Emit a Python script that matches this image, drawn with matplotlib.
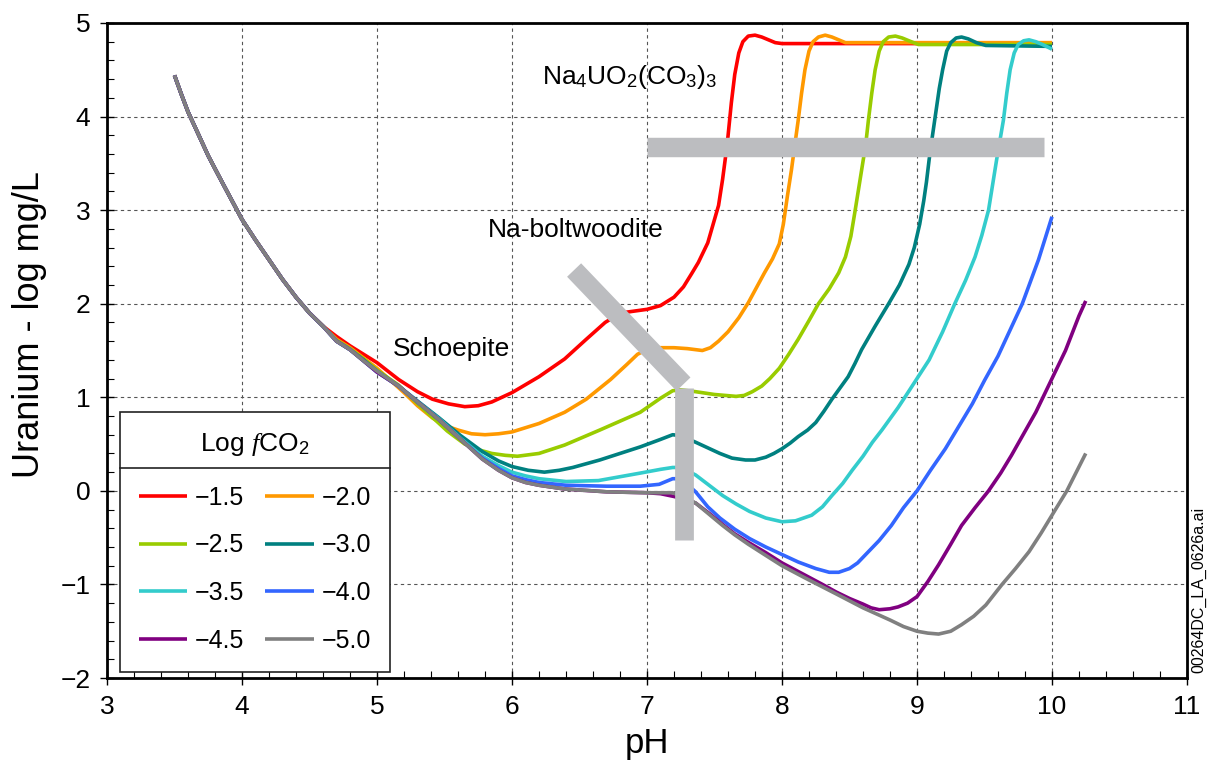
import matplotlib
matplotlib.use("Agg")
import matplotlib.pyplot as plt
from matplotlib.ticker import MultipleLocator
from matplotlib.lines import Line2D

plt.rcParams['font.family'] = ['Liberation Sans', 'DejaVu Sans']
plt.rcParams['mathtext.fontset'] = 'custom'
plt.rcParams['mathtext.rm'] = 'Liberation Sans'
plt.rcParams['mathtext.it'] = 'Liberation Serif:italic'

# shared low-pH branch (schoepite control), identical for every fCO2
shared_ph = [3.5, 3.55, 3.6, 3.68, 3.75, 3.83, 3.9, 4.0, 4.1, 4.2, 4.3, 4.4, 4.5, 4.6]
shared_u = [4.44, 4.24, 4.05, 3.8, 3.58, 3.36, 3.17, 2.9, 2.68, 2.47, 2.26, 2.07, 1.9, 1.76]

labels = ['\u22121.5', '\u22122.0', '\u22122.5', '\u22123.0',
          '\u22123.5', '\u22124.0', '\u22124.5', '\u22125.0']
colors = ['#ff0000', '#ff9900', '#99cc00', '#008080',
          '#33cccc', '#3366ff', '#800080', '#808080']

ph_15 = [4.7, 4.8, 4.9, 5.0, 5.16, 5.3, 5.41, 5.53, 5.65, 5.75, 5.85, 6.0, 6.2, 6.39, 6.55, 6.69,
         6.78, 6.85, 7.0, 7.1, 7.2, 7.27, 7.33, 7.38, 7.45, 7.5, 7.53, 7.56, 7.58, 7.6, 7.625,
         7.65, 7.68, 7.71, 7.75, 7.8, 7.85, 7.9, 7.95, 8.0, 10.0]
u_15 = [1.65, 1.55, 1.46, 1.37, 1.19, 1.06, 0.98, 0.93, 0.9, 0.91, 0.95, 1.05, 1.22, 1.41, 1.62, 1.8,
        1.88, 1.91, 1.94, 1.98, 2.07, 2.18, 2.32, 2.44, 2.65, 2.9, 3.05, 3.33, 3.55, 3.79, 4.15,
        4.45, 4.68, 4.8, 4.86, 4.87, 4.85, 4.82, 4.79, 4.78, 4.78]

ph_20 = [4.7, 4.8, 4.9, 5.0, 5.1, 5.2, 5.3, 5.41, 5.5, 5.6, 5.7, 5.8, 5.9, 6.0, 6.2, 6.39, 6.55,
         6.73, 6.85, 6.93, 7.0, 7.05, 7.2, 7.3, 7.41, 7.47, 7.53, 7.6, 7.68, 7.75, 7.81, 7.87, 7.93,
         7.98, 8.01, 8.04, 8.07, 8.1, 8.12, 8.145, 8.17, 8.2, 8.23, 8.27, 8.32, 8.37, 8.42, 8.47,
         8.52, 10.0]
u_20 = [1.62, 1.53, 1.42, 1.31, 1.18, 1.05, 0.91, 0.78, 0.7, 0.65, 0.61, 0.6, 0.61, 0.63, 0.72, 0.84,
        0.98, 1.19, 1.35, 1.46, 1.51, 1.53, 1.53, 1.52, 1.5, 1.53, 1.6, 1.7, 1.85, 2.01, 2.17, 2.33,
        2.48, 2.64, 2.85, 3.15, 3.43, 3.75, 3.96, 4.25, 4.5, 4.7, 4.8, 4.85, 4.87, 4.85, 4.82, 4.79,
        4.79, 4.79]

ph_25 = [4.7, 4.8, 4.9, 5.0, 5.16, 5.28, 5.4, 5.52, 5.65, 5.75, 5.85, 5.95, 6.04, 6.2, 6.39, 6.65,
         6.95, 7.1, 7.19, 7.25, 7.36, 7.5, 7.66, 7.72, 7.78, 7.85, 7.91, 7.98, 8.05, 8.12, 8.2,
         8.27, 8.35, 8.42, 8.47, 8.51, 8.54, 8.57, 8.59, 8.62, 8.64, 8.665, 8.69, 8.72, 8.75,
         8.79, 8.84, 8.89, 8.94, 9.01, 10.0]
u_25 = [1.61, 1.52, 1.41, 1.29, 1.13, 0.96, 0.8, 0.64, 0.5, 0.44, 0.4, 0.38, 0.37, 0.4, 0.49, 0.65,
        0.84, 0.99, 1.07, 1.08, 1.06, 1.03, 1.01, 1.02, 1.06, 1.12, 1.2, 1.31, 1.46, 1.62, 1.82,
        2.0, 2.16, 2.33, 2.5, 2.72, 2.98, 3.25, 3.43, 3.7, 3.96, 4.25, 4.5, 4.7, 4.8,
        4.85, 4.86, 4.84, 4.81, 4.77, 4.77]

ph_30 = [4.7, 4.8, 4.9, 5.0, 5.16, 5.3, 5.46, 5.62, 5.78, 5.9, 6.0, 6.12, 6.24, 6.35, 6.45, 6.65,
         6.95, 7.1, 7.19, 7.25, 7.36, 7.45, 7.54, 7.63, 7.73, 7.8, 7.88, 7.94, 8.0, 8.06, 8.12,
         8.19, 8.25, 8.31, 8.37, 8.43, 8.49, 8.54, 8.59, 8.69, 8.79, 8.87, 8.94, 8.98, 9.02, 9.05,
         9.07, 9.09, 9.115, 9.14, 9.165, 9.19, 9.22, 9.25, 9.29, 9.33, 9.38, 9.44, 9.51, 10.0]
u_30 = [1.6, 1.51, 1.4, 1.28, 1.12, 0.96, 0.78, 0.59, 0.42, 0.32, 0.26, 0.22, 0.2, 0.22, 0.25, 0.33,
        0.47, 0.55, 0.6, 0.59, 0.52, 0.46, 0.4, 0.35, 0.33, 0.33, 0.36, 0.4, 0.45, 0.51, 0.58,
        0.65, 0.73, 0.85, 0.98, 1.1, 1.22, 1.36, 1.51, 1.76, 2.0, 2.2, 2.42, 2.6, 2.85, 3.1,
        3.3, 3.54, 3.8, 4.05, 4.3, 4.5, 4.7, 4.79, 4.84, 4.85, 4.83, 4.79, 4.76, 4.75]

ph_35 = [4.7, 4.8, 4.9, 5.0, 5.16, 5.3, 5.46, 5.62, 5.78, 5.9, 6.0, 6.1, 6.2, 6.4, 6.64, 6.95, 7.1,
         7.19, 7.25, 7.36, 7.46, 7.56, 7.66, 7.76, 7.88, 8.0, 8.1, 8.22, 8.3, 8.37, 8.45, 8.52,
         8.6, 8.67, 8.74, 8.8, 8.86, 8.91, 9.0, 9.09, 9.19, 9.28, 9.36, 9.43, 9.48, 9.53, 9.56,
         9.59, 9.615, 9.64, 9.665, 9.69, 9.72, 9.75, 9.79, 9.83, 9.88, 9.93, 10.0]
u_35 = [1.6, 1.51, 1.39, 1.27, 1.12, 0.95, 0.77, 0.56, 0.37, 0.27, 0.2, 0.16, 0.13, 0.1, 0.11, 0.19,
        0.23, 0.25, 0.25, 0.17, 0.06, -0.05, -0.14, -0.22, -0.29, -0.33, -0.32, -0.26, -0.17,
        -0.05, 0.08, 0.22, 0.37, 0.52, 0.65, 0.77, 0.89, 1.0, 1.2, 1.4, 1.7, 2.0, 2.25, 2.5, 2.73,
        3.0, 3.27, 3.54, 3.75, 3.96, 4.25, 4.5, 4.68, 4.77, 4.81, 4.82, 4.8, 4.77, 4.72]

ph_40 = [4.7, 4.8, 4.9, 5.0, 5.16, 5.3, 5.46, 5.62, 5.78, 5.9, 6.0, 6.1, 6.2, 6.4, 6.7, 6.95, 7.09,
         7.19, 7.25, 7.36, 7.45, 7.54, 7.65, 7.76, 7.88, 8.0, 8.12, 8.25, 8.35, 8.42, 8.5, 8.56,
         8.62, 8.72, 8.81, 8.9, 9.0, 9.1, 9.21, 9.31, 9.41, 9.5, 9.6, 9.69, 9.78, 9.9, 10.0]
u_40 = [1.6, 1.51, 1.39, 1.27, 1.12, 0.95, 0.76, 0.55, 0.35, 0.24, 0.16, 0.12, 0.09, 0.06, 0.05, 0.05,
        0.07, 0.13, 0.13, -0.01, -0.17, -0.29, -0.41, -0.51, -0.6, -0.68, -0.76, -0.83, -0.87,
        -0.87, -0.83, -0.77, -0.68, -0.53, -0.37, -0.18, 0.0, 0.22, 0.45, 0.69, 0.93, 1.18, 1.44,
        1.72, 2.0, 2.47, 2.93]

ph_45 = [4.7, 4.8, 4.9, 5.0, 5.16, 5.3, 5.46, 5.62, 5.78, 5.9, 6.0, 6.1, 6.2, 6.39, 6.7, 7.0, 7.1,
         7.2, 7.28, 7.36, 7.46, 7.56, 7.65, 7.75, 7.88, 8.0, 8.17, 8.3, 8.4, 8.5, 8.6, 8.66, 8.72,
         8.8, 8.86, 8.93, 9.0, 9.08, 9.16, 9.25, 9.33, 9.43, 9.53, 9.62, 9.7, 9.79, 9.88, 10.0,
         10.1, 10.2, 10.25]
u_45 = [1.6, 1.51, 1.39, 1.27, 1.12, 0.95, 0.76, 0.55, 0.34, 0.22, 0.14, 0.09, 0.06, 0.02, -0.01,
        -0.02, -0.03, -0.06, -0.09, -0.13, -0.24, -0.36, -0.46, -0.55, -0.66, -0.77, -0.9, -1.0,
        -1.08, -1.15, -1.21, -1.25, -1.27, -1.26, -1.24, -1.2, -1.13, -0.97, -0.79, -0.57, -0.37,
        -0.18, 0.0, 0.19, 0.38, 0.61, 0.84, 1.2, 1.5, 1.87, 2.03]

ph_50 = [4.7, 4.8, 4.9, 5.0, 5.16, 5.3, 5.46, 5.62, 5.78, 5.9, 6.0, 6.1, 6.2, 6.39, 6.7, 7.0, 7.19,
         7.28, 7.36, 7.46, 7.56, 7.65, 7.75, 7.88, 8.0, 8.17, 8.4, 8.6, 8.8, 8.9, 9.0, 9.08, 9.16,
         9.25, 9.33, 9.42, 9.51, 9.57, 9.63, 9.73, 9.83, 9.92, 10.0, 10.11, 10.25]
u_50 = [1.6, 1.51, 1.39, 1.28, 1.12, 0.95, 0.76, 0.55, 0.34, 0.22, 0.14, 0.09, 0.06, 0.02, -0.01,
        -0.02, -0.02, -0.07, -0.13, -0.25, -0.37, -0.47, -0.57, -0.69, -0.8, -0.93, -1.1, -1.25,
        -1.38, -1.45, -1.5, -1.52, -1.53, -1.5, -1.43, -1.34, -1.22, -1.11, -1.0, -0.83, -0.65,
        -0.45, -0.26, 0.0, 0.40]

series = [(ph_15, u_15), (ph_20, u_20), (ph_25, u_25), (ph_30, u_30),
          (ph_35, u_35), (ph_40, u_40), (ph_45, u_45), (ph_50, u_50)]

# phase-boundary bands (grey bars)
na4_bar = ([7.0, 9.94], [3.67, 3.67])
boltwood_bar = ([6.46, 7.27], [2.36, 1.14])
schoep_bar = ([7.275, 7.275], [1.1, -0.52])

fig = plt.figure(figsize=(12.08, 7.69), dpi=100)
ax = fig.add_axes([0.0886, 0.1183, 0.8940, 0.8518])

handles = []
for (ph, u), c, lab in zip(series, colors, labels):
    ln, = ax.plot(shared_ph + ph, shared_u + u, color=c, lw=2.6, label=lab,
                  solid_joinstyle='round', solid_capstyle='butt', zorder=3)
    handles.append(ln)

bar_col = '#bcbdc0'
for bx, by in (na4_bar, boltwood_bar):
    ax.plot(bx, by, color=bar_col, lw=14, solid_capstyle='butt', zorder=5)
ax.plot(*schoep_bar, color=bar_col, lw=13.5, solid_capstyle='butt', zorder=5)

ax.text(5.55, 1.52, 'Schoepite', fontsize=19, ha='center', va='center', zorder=6)
ax.text(6.47, 2.79, 'Na-boltwoodite', fontsize=19, ha='center', va='center', zorder=6)
ax.text(6.87, 4.42, r'Na$_4$UO$_2$(CO$_3$)$_3$', fontsize=19, ha='center', va='center', zorder=6)

ax.set_xlim(3, 11)
ax.set_ylim(-2, 5)
ax.xaxis.set_major_locator(MultipleLocator(1))
ax.yaxis.set_major_locator(MultipleLocator(1))
ax.xaxis.set_minor_locator(MultipleLocator(0.2))
ax.yaxis.set_minor_locator(MultipleLocator(0.2))
ax.tick_params(which='major', direction='inout', length=10, width=1, labelsize=19, pad=7)
ax.tick_params(which='minor', direction='in', length=5, width=0.8)
ax.grid(True, which='major', color='#555555', lw=0.8, ls=(0, (3, 3)))
for sp in ax.spines.values():
    sp.set_linewidth(2)

ax.set_xlabel('pH', fontsize=25, labelpad=6)
ax.set_ylabel('Uranium - log mg/L', fontsize=26, labelpad=8)
ax.yaxis.set_label_coords(-0.056, 0.54)

# row-wise legend order: two columns, filled left to right
order = [0, 2, 4, 6, 1, 3, 5, 7]
leg = ax.legend(handles=[handles[i] for i in order], ncol=2, loc='upper left',
                bbox_to_anchor=(0.012, 0.406, 0.25, 0.0), mode='expand',
                title='Log $\\mathit{f}$CO$_2$', title_fontsize=19, fontsize=18,
                fancybox=False, edgecolor='#222222', framealpha=1,
                handlelength=1.95, handletextpad=0.3, labelspacing=0.95,
                columnspacing=1.6, borderpad=0.75, borderaxespad=0)
leg.get_frame().set_linewidth(1.2)
leg.set_zorder(10)
leg._legend_box.sep = 20

fig.text(0.992, 0.233, '00264DC_LA_0626a.ai', rotation=90, fontsize=11.5,
         ha='center', va='center')

# rule between legend title and entries
fig.canvas.draw()
r = fig.canvas.get_renderer()
lb = leg.get_window_extent(r)
tb = leg.get_title().get_window_extent(r)
ysep = tb.y0 - 10
inv = fig.transFigure.inverted()
(x0, y0), (x1, _) = inv.transform([(lb.x0, ysep), (lb.x1, ysep)])
fig.add_artist(Line2D([x0, x1], [y0, y0], color='#222222', lw=1.2, zorder=11))

fig.savefig('out.png', dpi=100)
